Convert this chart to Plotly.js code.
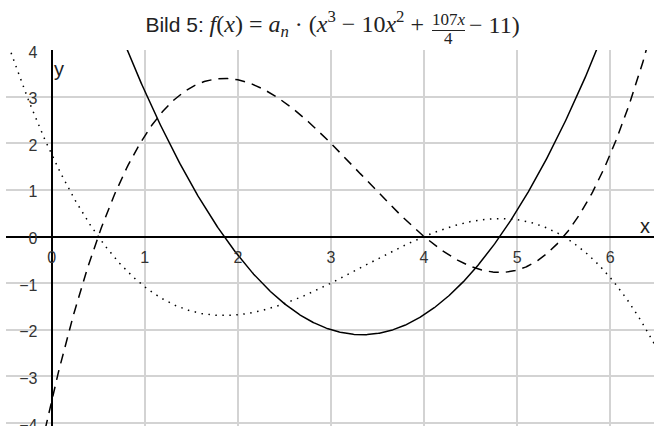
<!DOCTYPE html>
<html>
<head>
<meta charset="utf-8">
<script src="https://cdn.plot.ly/plotly-3.0.1.min.js"></script>
<style>
  html, body { margin: 0; padding: 0; background: #fff; }
  #chart { width: 654px; height: 426px; }
</style>
</head>
<body>
<div id="chart"></div>
<script>
// Polynomial f(x) = x^3 - 10x^2 + 107x/4 - 11 (highest power first)
const polyCoeffs = [1, -10, 107 / 4, -11];
// Curve names, scale factors a_n and dash styles
const curveNames = ['a·f(x)', '−a/2·f(x)', "a·f'(x)"];
const curveFactors = [0.32, -0.16, 0.32];
const curveUsesDerivative = [false, false, true];
const curveDash = ['10px,7px', '1.5px,5.5px', 'solid'];
// Axis ticks
const xTicks = [0, 1, 2, 3, 4, 5, 6];
const yTicks = [-4, -3, -2, -1, 0, 1, 2, 3, 4];
// Sampling grid for the curves
const xStart = -0.6, xEnd = 6.6, xStep = 0.01;

function polyEval(c, x) {
  return c.reduce((acc, k) => acc * x + k, 0);
}
function polyDeriv(c) {
  const n = c.length - 1;
  return c.slice(0, n).map((k, i) => k * (n - i));
}

const xs = [];
for (let x = xStart; x <= xEnd + 1e-9; x += xStep) xs.push(+x.toFixed(4));

const traces = curveNames.map((name, i) => {
  const c = curveUsesDerivative[i] ? polyDeriv(polyCoeffs) : polyCoeffs;
  return {
    type: 'scatter',
    mode: 'lines',
    name: name,
    x: xs,
    y: xs.map(x => curveFactors[i] * polyEval(c, x)),
    line: { color: '#000', width: 1.5, dash: curveDash[i] },
    hoverinfo: 'skip'
  };
});

const xRange = [-0.49, 6.47];
const yRange = [-4.064, 4];
const xAxisPos = (0 - yRange[0]) / (yRange[1] - yRange[0]);
const yAxisPos = (0 - xRange[0]) / (xRange[1] - xRange[0]);

const serif = 'Liberation Serif, DejaVu Serif, serif';
const sans = 'Liberation Sans, Arial, sans-serif';

// paper coordinate helpers for the header pieces
const W = 654, H = 426, ML = 6, MT = 50, MB = 0, MR = 0;
const PW = W - ML - MR, PH = H - MT - MB;
const px = v => (v - ML) / PW;
const py = v => 1 - (v - MT) / PH;

const sp = ' '; // space around math operators

const layout = {
  width: W,
  height: H,
  margin: { l: ML, r: MR, t: MT, b: MB, pad: 0 },
  paper_bgcolor: '#fff',
  plot_bgcolor: '#fff',
  showlegend: false,
  title: {
    text: 'Bild 5: <span style="font-family:' + serif + ';font-size:24px"><i>f</i>(<i>x</i>)' + sp + '=' + sp +
          '<i>a</i><sub><i>n</i></sub>' + sp + '·' + sp + '(<i>x</i><sup>3</sup>' + sp + '−' + sp +
          '10<i>x</i><sup>2</sup>' + sp + '+</span>',
    font: { family: sans, size: 21, color: '#222' },
    xref: 'container', yref: 'container',
    x: 424 / W, xanchor: 'right',
    y: 1 - 25 / H, yanchor: 'middle'
  },
  xaxis: {
    range: xRange,
    tickvals: xTicks,
    ticktext: xTicks.map(String),
    showgrid: true, gridcolor: '#d3d3d3', gridwidth: 2,
    zeroline: false,
    showline: true, linecolor: '#000', linewidth: 2,
    anchor: 'free', position: xAxisPos,
    ticks: '',
    ticklabelstandoff: 6,
    ticklabeloverflow: 'allow',
    tickfont: { family: sans, size: 16, color: '#333' },
    fixedrange: true
  },
  yaxis: {
    range: yRange,
    tickvals: yTicks,
    ticktext: yTicks.map(v => v < 0 ? '−' + Math.abs(v) : String(v)),
    showgrid: true, gridcolor: '#d3d3d3', gridwidth: 2,
    zeroline: false,
    showline: true, linecolor: '#000', linewidth: 2,
    anchor: 'free', position: yAxisPos,
    ticks: '',
    ticklabelstandoff: 10,
    ticklabelshift: 2,
    ticklabeloverflow: 'allow',
    tickfont: { family: sans, size: 16, color: '#333' },
    fixedrange: true
  },
  shapes: [
    { type: 'line', xref: 'paper', yref: 'paper',
      x0: px(432), x1: px(465), y0: py(30.5), y1: py(30.5),
      line: { color: '#222', width: 1.2 } }
  ],
  annotations: [
    { text: '107<i>x</i>', xref: 'paper', yref: 'paper', x: px(448.5), y: py(19),
      xanchor: 'center', yanchor: 'middle', showarrow: false,
      font: { family: serif, size: 17, color: '#222' } },
    { text: '4', xref: 'paper', yref: 'paper', x: px(448.5), y: py(38.5),
      xanchor: 'center', yanchor: 'middle', showarrow: false,
      font: { family: serif, size: 17, color: '#222' } },
    { text: '−' + sp + '11)', xref: 'paper', yref: 'paper', x: px(467), y: py(25),
      xanchor: 'left', yanchor: 'middle', showarrow: false,
      font: { family: serif, size: 24, color: '#222' } },
    { text: 'x', xref: 'paper', yref: 'paper', x: px(645), y: py(226),
      xanchor: 'center', yanchor: 'middle', showarrow: false,
      font: { family: sans, size: 20, color: '#222' } },
    { text: 'y', xref: 'paper', yref: 'paper', x: px(59), y: py(69),
      xanchor: 'center', yanchor: 'middle', showarrow: false,
      font: { family: sans, size: 20, color: '#222' } }
  ]
};

Plotly.newPlot('chart', traces, layout, { staticPlot: true, displayModeBar: false });
</script>
</body>
</html>
